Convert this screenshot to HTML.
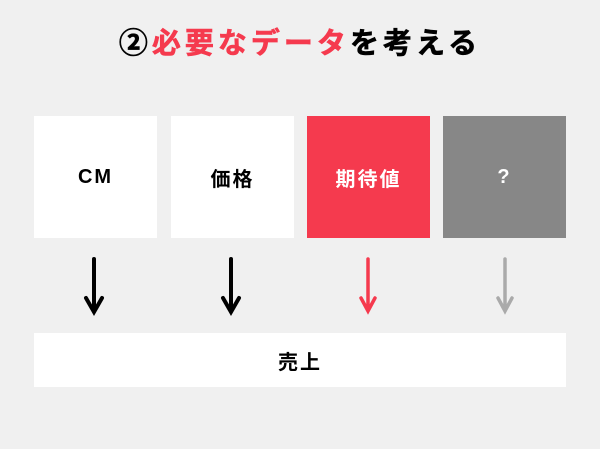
<!DOCTYPE html>
<html><head><meta charset="utf-8"><style>
body{margin:0;width:600px;height:449px;background:#f0f0f0;position:relative;overflow:hidden;font-family:"Liberation Sans","Noto Sans CJK JP",sans-serif;font-weight:bold}
.t{position:absolute;left:0;width:600px;top:24px;text-align:center;font-size:29px;line-height:40px;letter-spacing:4px;color:#000;-webkit-text-stroke:0.6px currentColor}
.r{color:#f53a4e}
.b{position:absolute;top:116px;width:123px;height:122px;display:flex;align-items:center;justify-content:center;font-size:20px;letter-spacing:2px;background:#fff;color:#000}
.s{position:absolute;left:34px;top:333px;width:532px;height:54px;background:#fff;display:flex;align-items:center;justify-content:center;font-size:20px;letter-spacing:2px}
</style></head><body>
<div class="t">②<span class="r">必要なデータ</span>を考える</div>
<div class="b" style="left:34px">CM</div>
<div class="b" style="left:171px">価格</div>
<div class="b" style="left:307px;background:#f53a4e;color:#fff">期待値</div>
<div class="b" style="left:443px;background:#878787;color:#fff">?</div>
<svg style="position:absolute;left:0;top:0" width="600" height="449">
<g fill="none" stroke-linecap="round" stroke-linejoin="miter">
<path d="M94 259V310M86 298L94 312L102 298" stroke="#000" stroke-width="4"/>
<path d="M231 259V310M223 298L231 312L239 298" stroke="#000" stroke-width="4"/>
<path d="M368 259V310M361 298L368 311L375 298" stroke="#f53a4e" stroke-width="3.5"/>
<path d="M505 259V310M498 298L505 311L512 298" stroke="#aaa" stroke-width="3.5"/>
</g></svg>
<div class="s">売上</div>
</body></html>
